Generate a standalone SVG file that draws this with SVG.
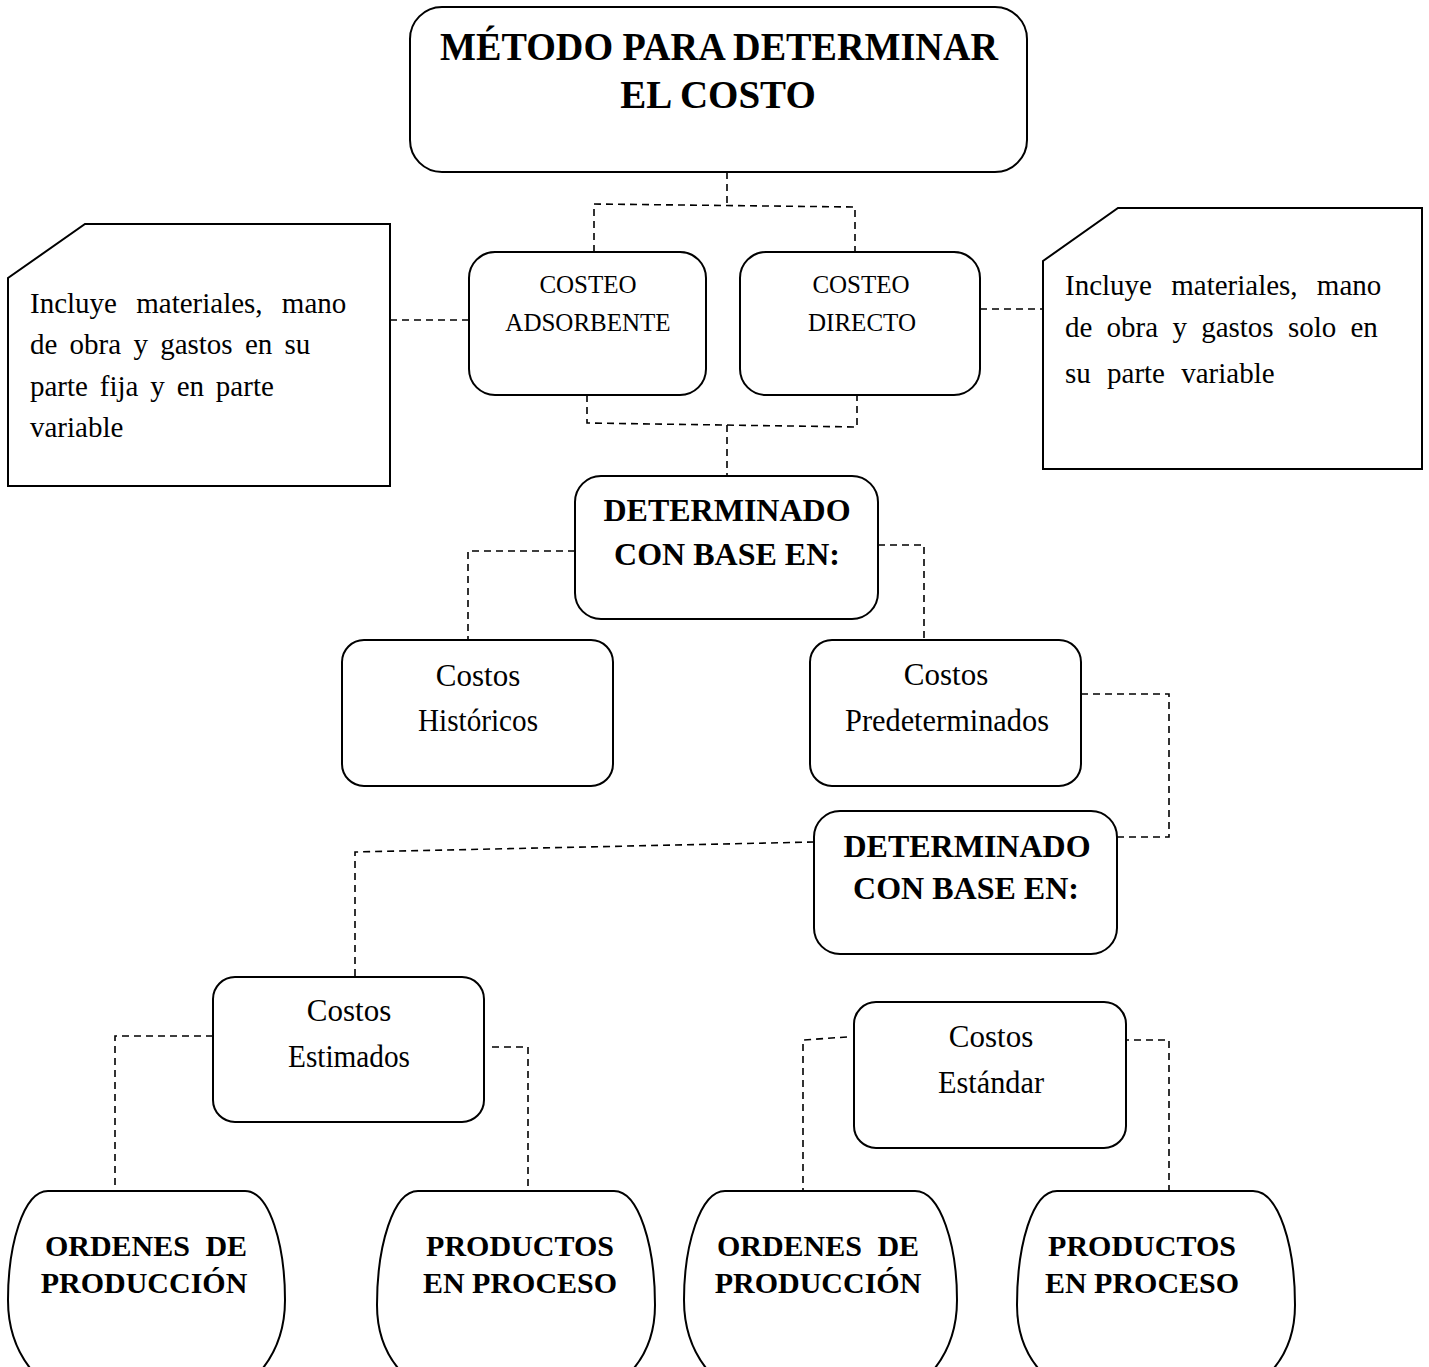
<svg xmlns="http://www.w3.org/2000/svg" width="1429" height="1367" viewBox="0 0 1429 1367">
<style>
.box{fill:#fff;stroke:#000;stroke-width:2}
.conn{fill:none;stroke:#000;stroke-width:1.6;stroke-dasharray:7 5}
.t{font-family:"Liberation Serif","Times New Roman",serif;fill:#000;text-anchor:middle}
.b{font-weight:bold}
.n{font-family:"Liberation Serif","Times New Roman",serif;fill:#000;font-size:29px}
</style>
<rect width="1429" height="1367" fill="#fff"/>
<g id="connectors">
<path class="conn" d="M727,172 V205"/>
<path class="conn" d="M594,252 V204 L855,207 V252"/>
<path class="conn" d="M390,320 H469"/>
<path class="conn" d="M980,309 H1043"/>
<path class="conn" d="M587,395 V423 L857,427 V395"/>
<path class="conn" d="M727,425 V476"/>
<path class="conn" d="M575,551 H468 V640"/>
<path class="conn" d="M878,545 H924 V640"/>
<path class="conn" d="M1081,694 H1169 V837 H1117"/>
<path class="conn" d="M814,842 L355,852 V977"/>
<path class="conn" d="M213,1036 H115 V1191"/>
<path class="conn" d="M492,1047 H528 V1191"/>
<path class="conn" d="M847,1037 L803,1040 V1191"/>
<path class="conn" d="M1122,1040 H1169 V1191"/>
</g>
<g id="metodo">
<rect class="box" x="410" y="7" width="617" height="165" rx="32"/>
<text class="t b" x="719" y="60" font-size="39" textLength="558" lengthAdjust="spacingAndGlyphs">MÉTODO PARA DETERMINAR</text>
<text class="t b" x="718" y="108" font-size="39">EL COSTO</text>
</g>
<g id="nota-izq">
<path class="box" d="M85,224 H390 V486 H8 V278 Z"/>
<text class="n" x="30" y="313" word-spacing="12">Incluye materiales, mano</text>
<text class="n" x="30" y="354" word-spacing="5">de obra y gastos en su</text>
<text class="n" x="30" y="396" word-spacing="4.6">parte fija y en parte</text>
<text class="n" x="30" y="437">variable</text>
</g>
<g id="costeo-adsorbente">
<rect class="box" x="469" y="252" width="237" height="143" rx="26"/>
<text class="t" x="588" y="293" font-size="25">COSTEO</text>
<text class="t" x="588" y="331" font-size="25">ADSORBENTE</text>
</g>
<g id="costeo-directo">
<rect class="box" x="740" y="252" width="240" height="143" rx="26"/>
<text class="t" x="861" y="293" font-size="25">COSTEO</text>
<text class="t" x="862" y="331" font-size="25">DIRECTO</text>
</g>
<g id="nota-der">
<path class="box" d="M1118,208 H1422 V469 H1043 V261 Z"/>
<text class="n" x="1065" y="295" word-spacing="12">Incluye materiales, mano</text>
<text class="n" x="1065" y="337" word-spacing="7">de obra y gastos solo en</text>
<text class="n" x="1065" y="383" word-spacing="9">su parte variable</text>
</g>
<g id="determinado-1">
<rect class="box" x="575" y="476" width="303" height="143" rx="26"/>
<text class="t b" x="727" y="521" font-size="32">DETERMINADO</text>
<text class="t b" x="727" y="565" font-size="32">CON BASE EN:</text>
</g>
<g id="costos-historicos">
<rect class="box" x="342" y="640" width="271" height="146" rx="22"/>
<text class="t" x="478" y="686" font-size="31">Costos</text>
<text class="t" x="478" y="731" font-size="31" textLength="120" lengthAdjust="spacingAndGlyphs">Históricos</text>
</g>
<g id="costos-predeterminados">
<rect class="box" x="810" y="640" width="271" height="146" rx="22"/>
<text class="t" x="946" y="685" font-size="31">Costos</text>
<text class="t" x="947" y="731" font-size="31" textLength="204" lengthAdjust="spacingAndGlyphs">Predeterminados</text>
</g>
<g id="determinado-2">
<rect class="box" x="814" y="811" width="303" height="143" rx="26"/>
<text class="t b" x="967" y="857" font-size="32">DETERMINADO</text>
<text class="t b" x="966" y="899" font-size="32">CON BASE EN:</text>
</g>
<g id="costos-estimados">
<rect class="box" x="213" y="977" width="271" height="145" rx="22"/>
<text class="t" x="349" y="1021" font-size="31">Costos</text>
<text class="t" x="349" y="1067" font-size="31" textLength="122" lengthAdjust="spacingAndGlyphs">Estimados</text>
</g>
<g id="costos-estandar">
<rect class="box" x="854" y="1002" width="272" height="146" rx="22"/>
<text class="t" x="991" y="1047" font-size="31">Costos</text>
<text class="t" x="991" y="1093" font-size="31" textLength="106" lengthAdjust="spacingAndGlyphs">Estándar</text>
</g>
<g id="ordenes-1">
<path class="box" d="M48,1191 H245 C270,1191 285,1246 285,1300 C285,1335 272,1362 250,1382 V1400 H43 V1382 C21,1362 8,1335 8,1300 C8,1246 23,1191 48,1191 Z"/>
<text class="t b" x="146" y="1256" font-size="30" word-spacing="8">ORDENES DE</text>
<text class="t b" x="144" y="1293" font-size="30">PRODUCCIÓN</text>
</g>
<g id="productos-1">
<path class="box" d="M418,1191 H614 C639,1191 655,1246 655,1305 C655,1338 642,1364 620,1382 V1400 H412 V1382 C390,1364 377,1338 377,1305 C377,1246 393,1191 418,1191 Z"/>
<text class="t b" x="520" y="1256" font-size="30">PRODUCTOS</text>
<text class="t b" x="520" y="1293" font-size="30">EN PROCESO</text>
</g>
<g id="ordenes-2">
<path class="box" d="M725,1191 H915 C941,1191 957,1246 957,1300 C957,1335 944,1362 922,1382 V1400 H719 V1382 C697,1362 684,1335 684,1300 C684,1246 700,1191 725,1191 Z"/>
<text class="t b" x="818" y="1256" font-size="30" word-spacing="8">ORDENES DE</text>
<text class="t b" x="818" y="1293" font-size="30">PRODUCCIÓN</text>
</g>
<g id="productos-2">
<path class="box" d="M1057,1191 H1253 C1279,1191 1295,1246 1295,1305 C1295,1338 1282,1364 1260,1382 V1400 H1052 V1382 C1030,1364 1017,1338 1017,1305 C1017,1246 1032,1191 1057,1191 Z"/>
<text class="t b" x="1142" y="1256" font-size="30">PRODUCTOS</text>
<text class="t b" x="1142" y="1293" font-size="30">EN PROCESO</text>
</g>
</svg>
